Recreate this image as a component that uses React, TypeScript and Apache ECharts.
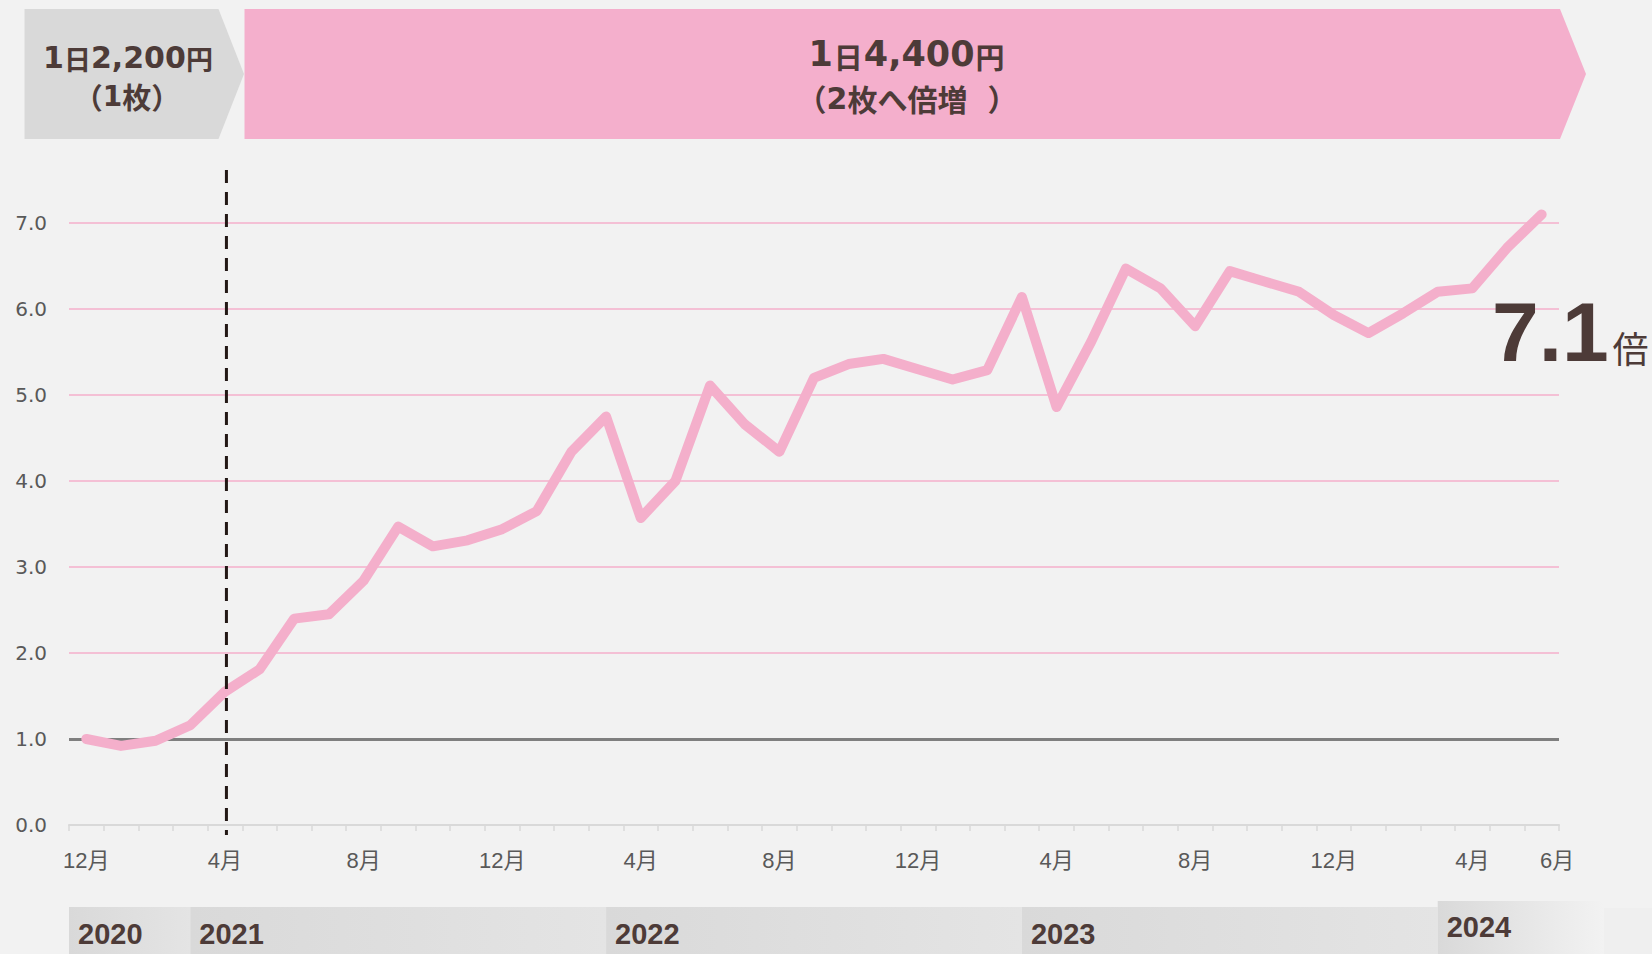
import React, { useEffect, useRef } from 'react';
import * as echarts from 'echarts';

const categories = [
  '2020-12',
  '2021-01', '2021-02', '2021-03', '2021-04', '2021-05', '2021-06', '2021-07', '2021-08', '2021-09', '2021-10', '2021-11', '2021-12',
  '2022-01', '2022-02', '2022-03', '2022-04', '2022-05', '2022-06', '2022-07', '2022-08', '2022-09', '2022-10', '2022-11', '2022-12',
  '2023-01', '2023-02', '2023-03', '2023-04', '2023-05', '2023-06', '2023-07', '2023-08', '2023-09', '2023-10', '2023-11', '2023-12',
  '2024-01', '2024-02', '2024-03', '2024-04', '2024-05', '2024-06',
];

const values = [
  1.0,
  0.92, 0.98, 1.16, 1.55, 1.81, 2.4, 2.45, 2.84, 3.47, 3.24, 3.31, 3.44,
  3.65, 4.34, 4.75, 3.57, 4.0, 5.11, 4.66, 4.34, 5.2, 5.36, 5.42, 5.3,
  5.18, 5.29, 6.14, 4.86, 5.62, 6.47, 6.24, 5.8, 6.44, 6.32, 6.2, 5.93,
  5.72, 5.95, 6.2, 6.24, 6.71, 7.1,
];

const yTicks = [0, 1, 2, 3, 4, 5, 6, 7];
const baseline = 1.0;
const changeIndex = 4; // 2021-04: price doubled
const years = ['2020', '2021', '2022', '2023', '2024'];
const yearStartIndex = [0, 3, 15, 27, 39];

const BROWN = '#4d3b38';
const PINK = '#f4afcb';
const GRAY_TXT = '#595959';

export default function App() {
  const ref = useRef<HTMLDivElement>(null);

  useEffect(() => {
    const chart = echarts.init(ref.current as HTMLDivElement, null, { renderer: 'svg' });
    const last = categories.length - 1;
    const option: any = {
      animation: false,
      backgroundColor: '#f2f2f2',
      grid: { left: 69, right: 93, top: 223, bottom: 129, containLabel: false },
      xAxis: {
        type: 'category',
        data: categories,
        boundaryGap: true,
        axisLine: { show: true, lineStyle: { color: '#d9d9d9', width: 2 } },
        axisTick: { show: true, interval: 0, length: 6, lineStyle: { color: '#d9d9d9', width: 1.5 } },
        axisLabel: {
          interval: (i: number) => i % 4 === 0 || i === last,
          margin: 24,
          color: GRAY_TXT,
          fontFamily: 'Liberation Sans, Noto Sans CJK JP',
          fontSize: 22,
          formatter: (v: string, i: number) => {
            const m = parseInt(v.slice(5), 10) + '月';
            return i === last ? '{e|' + m + '}' : m;
          },
          rich: {
            e: { padding: [0, 0, 0, 31], color: GRAY_TXT, fontFamily: 'Liberation Sans, Noto Sans CJK JP', fontSize: 22 },
          },
        },
        splitLine: { show: false },
      },
      yAxis: {
        type: 'value',
        min: yTicks[0],
        max: yTicks[yTicks.length - 1],
        interval: 1,
        axisLine: { show: false },
        axisTick: { show: false },
        axisLabel: {
          margin: 22,
          color: GRAY_TXT,
          fontFamily: 'DejaVu Sans',
          fontSize: 20,
          formatter: (v: number) => v.toFixed(1),
        },
        splitLine: { show: true, lineStyle: { color: PINK, width: 1.5 } },
      },
      series: [
        {
          type: 'line',
          data: values,
          symbol: 'none',
          clip: false,
          z: 3,
          lineStyle: { color: PINK, width: 10, cap: 'round', join: 'round' },
          markLine: {
            silent: true,
            symbol: 'none',
            label: { show: false },
            lineStyle: { color: '#7f7f7f', width: 3, type: 'solid' },
            data: [{ yAxis: baseline }],
            z: 2,
          },
        },
      ],
    };
    chart.setOption(option);

    const px = (i: number) => chart.convertToPixel({ xAxisIndex: 0 }, i) as number;
    const gridLeft = px(0) - (px(1) - px(0)) / 2;
    const dashX = px(changeIndex) + 1.5;

    const bandTexts: any[] = [];
    years.forEach((y, k) => {
      const x0 = k === 0 ? gridLeft : px(yearStartIndex[k]);
      const isLast = k === years.length - 1;
      const x1 = isLast ? x0 + 166 : px(yearStartIndex[k + 1]);
      const top = isLast ? 901 : 907;
      bandTexts.push({
        type: 'rect',
        z: 1,
        shape: { x: x0, y: top, width: x1 - x0, height: 954 - top },
        style: {
          fill: new echarts.graphic.LinearGradient(0, 0, 1, 0, [
            { offset: 0, color: '#d9d9d9' },
            { offset: 1, color: isLast ? '#f2f2f2' : '#e4e4e4' },
          ]),
        },
      });
      bandTexts.push({
        type: 'text',
        z: 2,
        style: {
          text: y,
          x: x0 + 9,
          y: isLast ? 927 : 933.5,
          textAlign: 'left',
          textVerticalAlign: 'middle',
          fill: BROWN,
          font: 'bold 29px "Liberation Sans", Arial, sans-serif',
        },
      });
    });
    bandTexts.push({
      type: 'rect',
      z: 1,
      shape: { x: 1604, y: 908, width: 48, height: 46 },
      style: { fill: '#efefef' },
    });

    const digit = { fontFamily: 'DejaVu Sans', fontWeight: 'bold', fill: BROWN };
    const kanji = { fontFamily: 'Noto Sans CJK JP', fontWeight: 'bold', fill: BROWN };

    chart.setOption({
      graphic: [
        {
          type: 'polygon',
          z: 1,
          shape: { points: [[24.5, 9], [218.5, 9], [244, 74], [218.5, 139], [24.5, 139]] },
          style: { fill: '#d9d9d9' },
        },
        {
          type: 'polygon',
          z: 1,
          shape: { points: [[244.5, 9], [1560, 9], [1586, 74], [1560, 139], [244.5, 139]] },
          style: { fill: '#f4afcc' },
        },
        {
          type: 'text',
          z: 2,
          style: {
            text: '{d|1}{k|日}{d|2,200}{k|円}',
            x: 128,
            y: 57,
            textAlign: 'center',
            textVerticalAlign: 'middle',
            rich: {
              d: { ...digit, fontSize: 30 },
              k: { ...kanji, fontSize: 27, padding: [3, 0, 0, 0] },
            },
          },
        },
        {
          type: 'text',
          z: 2,
          style: {
            text: '{k|（}{d|1}{k|枚）}',
            x: 127,
            y: 96,
            textAlign: 'center',
            textVerticalAlign: 'middle',
            rich: {
              d: { ...digit, fontSize: 28 },
              k: { ...kanji, fontSize: 29 },
            },
          },
        },
        {
          type: 'text',
          z: 2,
          style: {
            text: '{d|1}{k|日}{d|4,400}{k|円}',
            x: 907,
            y: 54,
            textAlign: 'center',
            textVerticalAlign: 'middle',
            rich: {
              d: { ...digit, fontSize: 35 },
              k: { ...kanji, fontSize: 29, padding: [3, 1, 0, 1] },
            },
          },
        },
        {
          type: 'text',
          z: 2,
          style: {
            text: '{k|（}{d|2}{k|枚へ倍増}{p|）}',
            x: 907,
            y: 98,
            textAlign: 'center',
            textVerticalAlign: 'middle',
            rich: {
              d: { ...digit, fontSize: 30 },
              k: { ...kanji, fontSize: 30 },
              p: { ...kanji, fontSize: 30, padding: [0, 0, 0, 20] },
            },
          },
        },
        {
          type: 'line',
          z: 10,
          shape: { x1: dashX, y1: 170, x2: dashX, y2: 835 },
          style: { stroke: '#231815', lineWidth: 3, lineDash: [13, 9] },
        },
        {
          type: 'text',
          z: 10,
          style: {
            text: values[last].toFixed(1),
            x: 1492,
            y: 332,
            textAlign: 'left',
            textVerticalAlign: 'middle',
            fill: BROWN,
            font: 'bold 84px "Liberation Sans", Arial, sans-serif',
          },
        },
        {
          type: 'text',
          z: 10,
          style: {
            text: '倍',
            x: 1630.5,
            y: 347,
            textAlign: 'center',
            textVerticalAlign: 'middle',
            fill: BROWN,
            font: '36px "Noto Sans CJK JP", sans-serif',
          },
        },
        ...bandTexts,
      ],
    });

    return () => chart.dispose();
  }, []);

  return (
    <div
      ref={ref}
      style={{ position: 'fixed', left: 0, top: 0, width: 1652, height: 954, background: '#f2f2f2' }}
    />
  );
}
